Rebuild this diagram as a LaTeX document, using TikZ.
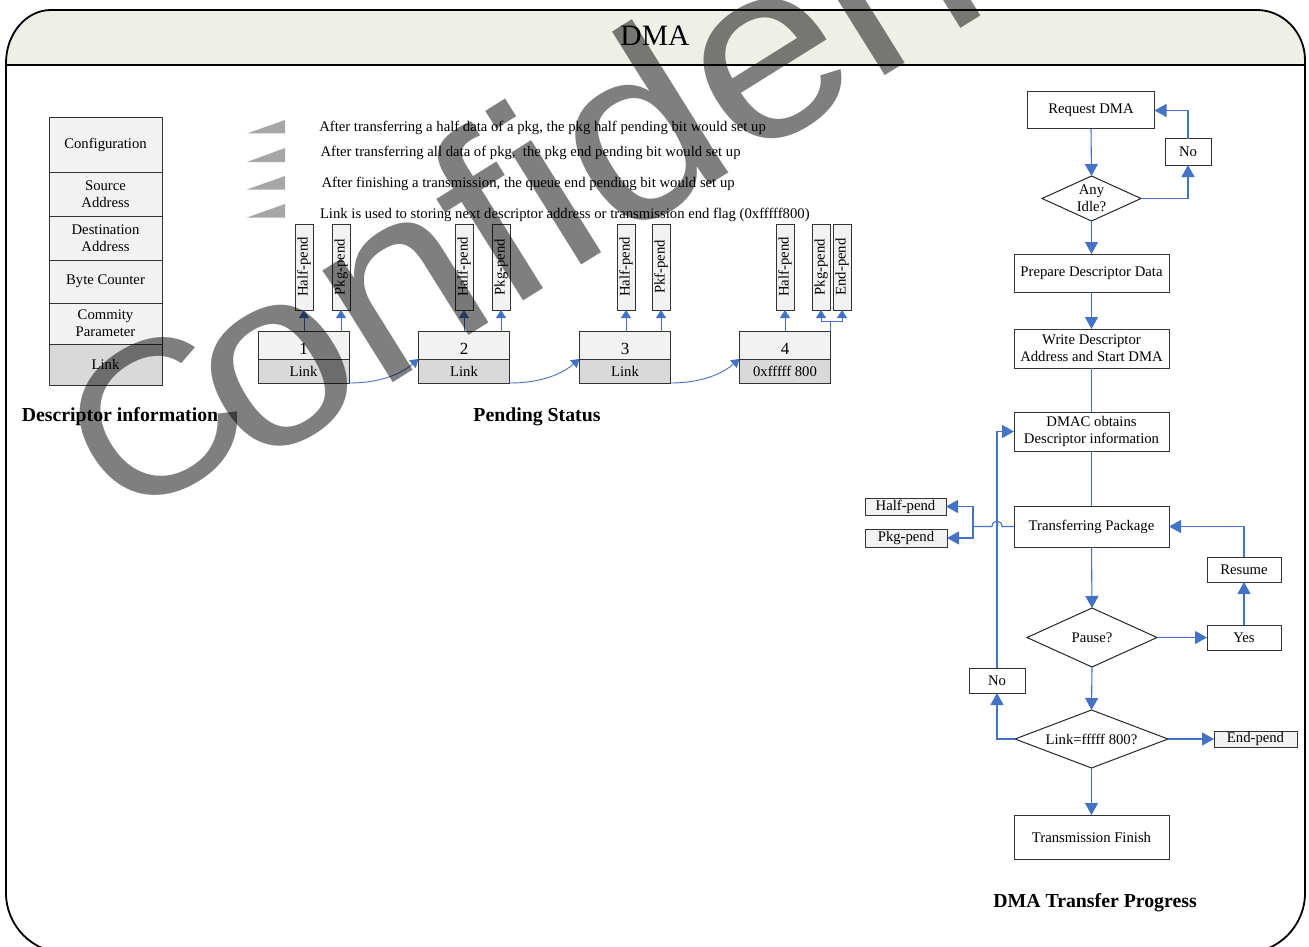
\documentclass[tikz,border=0pt]{standalone}
\usepackage{fontspec}
\setmainfont{Liberation Serif}[Ligatures={TeX,NoCommon}]
\newfontfamily\wmfamily{Liberation Sans}[Ligatures=NoCommon]
\usetikzlibrary{arrows.meta,shapes.geometric}

\definecolor{flowblue}{HTML}{4472C4}
\definecolor{headfill}{HTML}{EEEFE7}
\definecolor{lightfill}{HTML}{F2F2F2}
\definecolor{darkfill}{HTML}{D9D9D9}
\definecolor{markgray}{HTML}{A6A6A6}
\newcommand{\setfs}[1]{\fontsize{#1}{17}\selectfont}

\begin{document}
\begin{tikzpicture}[x=1pt,y=-1pt,
  every node/.style={inner sep=0pt, outer sep=0pt},
  txt/.style={font=\setfs{14.7}, align=center},
  fbox/.style={txt, draw=black!80, line width=1pt, fill=white},
  gbox/.style={fbox, fill=lightfill},
  vbox/.style={gbox, rotate=90, minimum width=86pt, minimum height=18pt},
  decision/.style={txt, diamond, draw=black!85, line width=1pt, fill=white, aspect=2.2},
  conn/.style={draw=flowblue, line width=1.1pt},
  arr/.style={conn, -{Triangle[length=12pt,width=13pt]}},
  sarr/.style={conn, line width=0.9pt, -{Triangle[length=8pt,width=10pt]}},
  heading/.style={font=\fontsize{19.8}{22}\selectfont\bfseries, anchor=base},
  legend/.style={font=\setfs{14.7}, anchor=base west}]

\useasboundingbox (0,0) rectangle (1309,947);
\fill[white] (0,0) rectangle (1309,947);
\clip (0,0) rectangle (1309,947);

% outer frame with its title band
\fill[headfill] (6,65) -- (6,63) .. controls (6,33.7) and (26.1,10) .. (51,10)
  -- (1257,10) .. controls (1283,10) and (1305,32.4) .. (1305,60) -- (1305,65) -- cycle;
\draw[line width=1.8pt] (6,63) .. controls (6,33.7) and (26.1,10) .. (51,10)
  -- (1257,10) .. controls (1283,10) and (1305,32.4) .. (1305,60)
  -- (1305,893) .. controls (1305,926.1) and (1278.1,953) .. (1245,953)
  -- (66,953) .. controls (32.9,953) and (6,926.1) .. (6,893) -- cycle;
\draw[line width=1.8pt] (6,65) -- (1305,65);
\node[font=\fontsize{29.6}{32}\selectfont, anchor=base] (title) at (655,46) {DMA};

% descriptor fields
\node[gbox, minimum width=113pt, minimum height=54pt] (cfg) at (105.5,145) {Configuration};
\node[gbox, minimum width=113pt, minimum height=44pt] (src) at (105.5,194) {Source\\Address};
\node[gbox, minimum width=113pt, minimum height=44pt] (dst) at (105.5,238) {Destination\\Address};
\node[gbox, minimum width=113pt, minimum height=43pt] (cnt) at (105.5,281.5) {Byte Counter};
\node[gbox, minimum width=113pt, minimum height=41pt] (par) at (105.5,323.5) {Commity\\Parameter};
\node[gbox, fill=darkfill, minimum width=113pt, minimum height=41pt] (lnk) at (105.5,364.5) {Link};
\node[heading] (desc) at (120,421) {Descriptor information};

% legend
\fill[markgray] (247,133.5) -- (285,120) -- (285,133.5) -- cycle;
\fill[markgray] (247,162) -- (285,148) -- (285,162) -- cycle;
\fill[markgray] (247,189.5) -- (285,176) -- (285,189.5) -- cycle;
\fill[markgray] (247,217.5) -- (285,204) -- (285,217.5) -- cycle;
\node[legend] (lg1) at (319.3,131.7) {After transferring a half data of a pkg, the pkg half pending bit would set up};
\node[legend] (lg2) at (320.5,157) {After transferring all data of pkg,~ the pkg end pending bit would set up};
\node[legend] (lg3) at (321.5,187) {After finishing a transmission, the queue end pending bit would set up};
\node[legend] (lg4) at (320,218.5) {Link is used to storing next descriptor address or transmission end flag (0xfffff800)};

% pending status chain
\foreach \i/\cx/\lab in {1/303.5/Link, 2/464/Link, 3/625/Link, 4/785/0xfffff 800}{
  \node[gbox, minimum width=91pt, minimum height=28pt, font=\setfs{17},
        text height=18.5pt, text depth=0pt] (n\i) at (\cx,345) {\i};
  \node[gbox, fill=darkfill, minimum width=91pt, minimum height=24pt] (l\i) at (\cx,371) {\lab};
}
\node[vbox] (h1) at (304,267) {Half-pend};
\node[vbox] (p1) at (341,267) {Pkg-pend};
\node[vbox] (h2) at (464,267) {Half-pend};
\node[vbox] (p2) at (501,267) {Pkg-pend};
\node[vbox] (h3) at (626,267) {Half-pend};
\node[vbox] (p3) at (661,267) {Pkf-pend};
\node[vbox] (h4) at (785,267) {Half-pend};
\node[vbox] (p4) at (821,267) {Pkg-pend};
\node[vbox] (e4) at (842,267) {End-pend};
\node[heading] (pend) at (537,421) {Pending Status};

\foreach \a/\b in {h1/n1, p1/n1, h2/n2, p2/n2, h3/n3, p3/n3, h4/n4}{
  \draw[sarr] (\a.west |- \b.north) -- (\a.west);
}
\coordinate (j4) at (830.5,321);
\draw[conn, line width=0.9pt] (n4.north east) -- (j4);
\draw[sarr] (j4) -| (p4.west);
\draw[sarr] (j4) -| (e4.west);

\draw[sarr] (l1.south east) .. controls (382,383) and (402,373) .. (l2.north west);
\draw[sarr] (l2.south east) .. controls (543,383) and (563,373) .. (l3.north west);
\draw[sarr] (l3.south east) .. controls (703,383) and (723,373) .. (l4.north west);

% transfer flow
\node[fbox, minimum width=127pt, minimum height=37pt] (req) at (1091,110.5) {Request DMA};
\node[fbox, minimum width=46pt, minimum height=26pt] (no1) at (1188,152) {No};
\node[decision, minimum width=99pt, minimum height=45pt] (idle) at (1091.5,198.5) {Any\\Idle?};
\node[fbox, minimum width=155pt, minimum height=38pt] (prep) at (1091.5,273) {Prepare Descriptor Data};
\node[fbox, minimum width=155pt, minimum height=39pt] (wr) at (1091.5,348.5) {Write Descriptor\\Address and Start DMA};
\node[fbox, minimum width=155pt, minimum height=39pt] (dmac) at (1091.5,431.5) {DMAC obtains\\Descriptor information};
\node[fbox, minimum width=155pt, minimum height=41pt] (tp) at (1091.5,526.5) {Transferring Package};
\node[gbox, minimum width=81pt, minimum height=17pt] (hp) at (905.5,506.5) {Half-pend};
\node[gbox, minimum width=82pt, minimum height=18pt] (pp) at (906,538) {Pkg-pend};
\node[decision, minimum width=130pt, minimum height=59pt] (pause) at (1092,637.5) {Pause?};
\node[fbox, minimum width=74pt, minimum height=25pt] (yes) at (1244,637.5) {Yes};
\node[fbox, minimum width=74pt, minimum height=25pt] (res) at (1244,569.5) {Resume};
\node[decision, aspect=2.6, minimum width=153pt, minimum height=58pt] (lk) at (1091.5,739) {Link=fffff 800?};
\node[gbox, minimum width=83pt, minimum height=16pt] (ep) at (1255.5,739) {End-pend};
\node[fbox, minimum width=56pt, minimum height=25pt] (no2) at (997,680.5) {No};
\node[fbox, minimum width=155pt, minimum height=44pt] (fin) at (1091.5,837) {Transmission Finish};
\node[heading] (prog) at (1095,907) {DMA Transfer Progress};

\draw[arr] (req.south) -- (idle.north);
\draw[arr] (idle.east) -| (no1.south);
\draw[arr] (no1.north) |- (req.east);
\draw[arr] (idle.south) -- (prep.north);
\draw[arr] (prep.south) -- (wr.north);
\draw[conn] (wr.south) -- (dmac.north);
\draw[conn] (dmac.south) -- (tp.north);
\coordinate (tsplit) at (973,526.5);
\draw[conn] (tp.west) -- (1002,526.5) .. controls (1002,519.5) and (992,519.5) .. (992,526.5) -- (tsplit);
\draw[arr] (tsplit) |- (hp.east);
\draw[arr] (tsplit) |- (pp.east);
\draw[arr] (tp.south) -- (pause.north);
\draw[arr] (pause.east) -- (yes.west);
\draw[arr] (yes.north) -- (res.south);
\draw[arr] (res.north) |- (tp.east);
\draw[arr] (pause.south) -- (lk.north);
\draw[arr] (lk.east) -- (ep.west);
\draw[arr] (lk.west) -| (no2.south);
\draw[arr] (no2.north) |- (dmac.west);
\draw[arr] (lk.south) -- (fin.north);

% watermark
\node[font=\wmfamily\fontsize{250}{250}\selectfont, text=black, opacity=0.5,
      rotate=32, xscale=1.07, anchor=base west] (wm) at (128.7,548.1)
      {\kern6.9pt\raisebox{21.3pt}{\fontsize{215}{215}\selectfont C}\kern-26.9pt onfidential};
\end{tikzpicture}
\end{document}
